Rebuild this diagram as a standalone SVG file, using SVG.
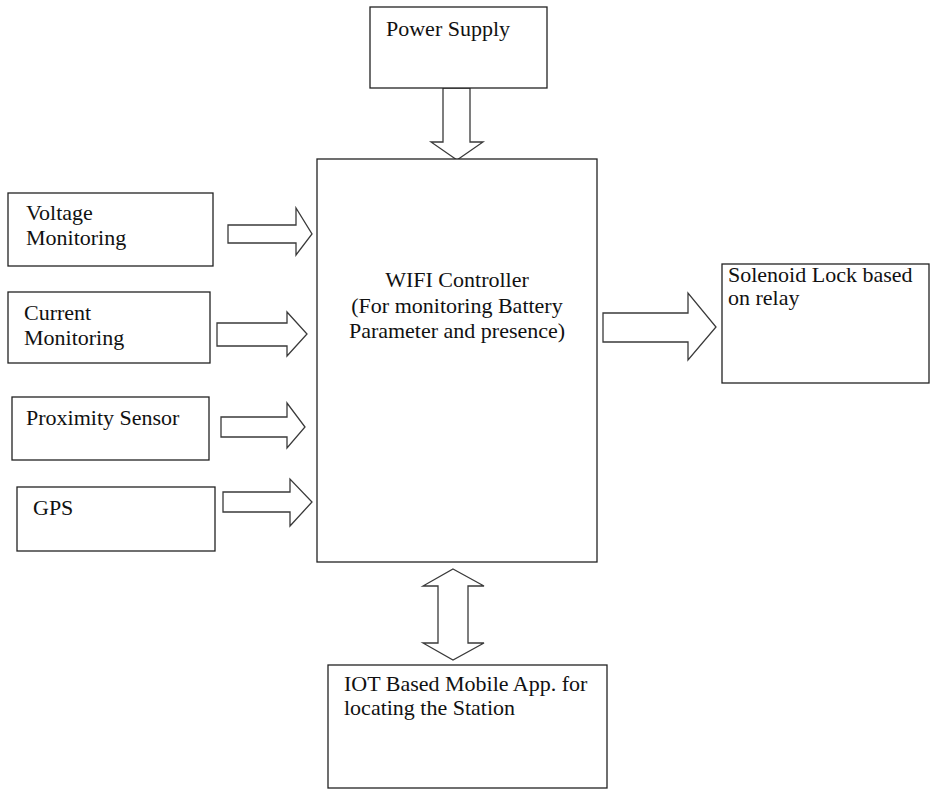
<svg xmlns="http://www.w3.org/2000/svg" width="931" height="790" viewBox="0 0 931 790">
  <style>
    .box { fill: #fff; stroke: #222; stroke-width: 1.3; }
    .arrow { fill: #fff; stroke: #3a3a3a; stroke-width: 1.3; stroke-linejoin: miter; }
    .lbl { font-family: "Times New Roman", "Liberation Serif", "Noto Serif", "DejaVu Serif", Times, serif; font-size: 22px; fill: #111; }
    .mid { text-anchor: middle; }
  </style>
  <rect width="931" height="790" fill="#fff"/>

  <!-- block arrows -->
  <g id="connectors">
    <!-- power supply to controller -->
    <polygon class="arrow" points="443,88 470,88 470,142 483,142 457,160 431,142 443,142"/>
    <!-- sensors to controller -->
    <polygon class="arrow" points="228,225 296,225 296,208 312,234 296,255 296,243 228,243"/>
    <polygon class="arrow" points="217,323 287,323 287,312 307,334 287,356 287,346 217,346"/>
    <polygon class="arrow" points="221,417 287,417 287,403 305,427 287,448 287,437 221,437"/>
    <polygon class="arrow" points="223,492 290,492 290,479 312,502 290,526 290,512 223,512"/>
    <!-- controller to solenoid lock -->
    <polygon class="arrow" points="603,313 688,313 688,293 716,327 688,360 688,342 603,342"/>
    <!-- controller to mobile app (two-way) -->
    <polygon class="arrow" points="453,569 484,586 468,586 468,643 484,643 453,660 423,643 438,643 438,586 423,586"/>
  </g>

  <g id="power-supply">
    <rect class="box" x="370" y="7" width="177" height="81"/>
    <text class="lbl" x="386" y="36">Power Supply</text>
  </g>

  <g id="wifi-controller">
    <rect class="box" x="317" y="159" width="280" height="403"/>
    <text class="lbl mid" x="457" y="287">WIFI Controller</text>
    <text class="lbl mid" x="457" y="313">(For monitoring Battery</text>
    <text class="lbl mid" x="457" y="338">Parameter and presence)</text>
  </g>

  <g id="voltage-monitoring">
    <rect class="box" x="8" y="193" width="205" height="73"/>
    <text class="lbl" x="26" y="220">Voltage</text>
    <text class="lbl" x="26" y="245">Monitoring</text>
  </g>

  <g id="current-monitoring">
    <rect class="box" x="8" y="292" width="202" height="71"/>
    <text class="lbl" x="24" y="320">Current</text>
    <text class="lbl" x="24" y="345">Monitoring</text>
  </g>

  <g id="proximity-sensor">
    <rect class="box" x="12" y="397" width="197" height="63"/>
    <text class="lbl" x="26" y="425">Proximity Sensor</text>
  </g>

  <g id="gps">
    <rect class="box" x="17" y="487" width="198" height="64"/>
    <text class="lbl" x="33" y="515">GPS</text>
  </g>

  <g id="solenoid-lock">
    <rect class="box" x="722" y="264" width="207" height="119"/>
    <text class="lbl" x="728" y="282">Solenoid Lock based</text>
    <text class="lbl" x="728" y="305">on relay</text>
  </g>

  <g id="mobile-app">
    <rect class="box" x="328" y="665" width="279" height="123"/>
    <text class="lbl" x="344" y="691">IOT Based Mobile App. for</text>
    <text class="lbl" x="344" y="715">locating the Station</text>
  </g>
</svg>
